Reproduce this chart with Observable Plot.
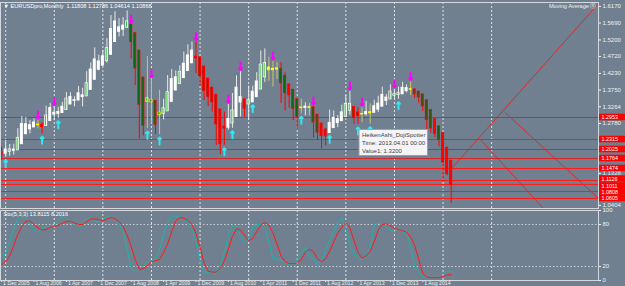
<!DOCTYPE html>
<html><head><meta charset="utf-8">
<script src="https://cdn.jsdelivr.net/npm/d3@7"></script>
<script src="https://cdn.jsdelivr.net/npm/@observablehq/plot@0.6"></script>
<style>
html,body{margin:0;padding:0;background:#708090;}
#chart{position:relative;width:625px;height:286px;background:#708090;overflow:hidden;}
#chart svg{position:absolute;left:0;display:block;}
</style></head><body><div id="chart"></div>
<script>
// Monthly Heiken Ashi candles, index 0 = Dec 2005 ... 111 = Mar 2015
const haOpen = [1.1950,1.1905,1.1964,1.1992,1.2006,1.2182,1.2471,1.2613,1.2669,1.2736,1.2740,1.2709,1.2856,1.3040,1.3062,1.3085,1.3174,1.3333,1.3439,1.3446,1.3549,1.3571,1.3756,1.4047,1.4340,1.4457,1.4590,1.4773,1.5144,1.5439,1.5502,1.5558,1.5647,1.5395,1.4887,1.4107,1.3413,1.3459,1.3430,1.3088,1.3059,1.3136,1.3408,1.3737,1.3925,1.4098,1.4303,1.4527,1.4709,1.4691,1.4425,1.4077,1.3816,1.3608,1.3183,1.2684,1.2660,1.2786,1.2968,1.3392,1.3468,1.3338,1.3394,1.3545,1.3769,1.4125,1.4327,1.4363,1.4345,1.4359,1.4155,1.3907,1.3754,1.3480,1.3226,1.3235,1.3250,1.3243,1.3028,1.2773,1.2596,1.2504,1.2649,1.2795,1.2850,1.2974,1.3157,1.3251,1.3097,1.3046,1.3050,1.3078,1.3092,1.3184,1.3269,1.3437,1.3481,1.3590,1.3607,1.3628,1.3719,1.3761,1.3766,1.3698,1.3618,1.3449,1.3166,1.2902,1.2694,1.2500,1.2074,1.1696];
const haClose = [1.1860,1.2023,1.2020,1.2020,1.2358,1.2760,1.2755,1.2725,1.2803,1.2743,1.2678,1.3003,1.3223,1.3085,1.3108,1.3263,1.3493,1.3545,1.3453,1.3653,1.3593,1.3940,1.4338,1.4633,1.4573,1.4723,1.4955,1.5515,1.5733,1.5565,1.5613,1.5735,1.5143,1.4378,1.3328,1.2718,1.3505,1.3400,1.2745,1.3030,1.3213,1.3680,1.4065,1.4113,1.4270,1.4508,1.4750,1.4890,1.4673,1.4158,1.3730,1.3555,1.3400,1.2758,1.2185,1.2635,1.2913,1.3150,1.3815,1.3543,1.3208,1.3450,1.3695,1.3993,1.4480,1.4528,1.4398,1.4328,1.4373,1.3950,1.3660,1.3600,1.3205,1.2973,1.3243,1.3265,1.3235,1.2813,1.2518,1.2418,1.2413,1.2793,1.2940,1.2905,1.3098,1.3340,1.3345,1.2943,1.2995,1.3053,1.3105,1.3105,1.3275,1.3353,1.3605,1.3525,1.3698,1.3623,1.3650,1.3810,1.3803,1.3770,1.3630,1.3538,1.3280,1.2883,1.2638,1.2485,1.2305,1.1648,1.1318,1.1002];
const haHigh = [1.2100,1.2290,1.2170,1.2180,1.2630,1.2980,1.2950,1.2860,1.2910,1.2870,1.2800,1.3280,1.3360,1.3260,1.3250,1.3390,1.3680,1.3670,1.3550,1.3850,1.3800,1.4280,1.4530,1.4970,1.4760,1.4900,1.5240,1.5910,1.6020,1.5820,1.5850,1.6040,1.5647,1.5395,1.4887,1.4107,1.4720,1.4060,1.3430,1.3740,1.3480,1.4170,1.4340,1.4300,1.4450,1.4850,1.5060,1.5140,1.5140,1.4691,1.4425,1.4077,1.3816,1.3608,1.3183,1.3110,1.3330,1.3650,1.4160,1.4280,1.3500,1.3860,1.3860,1.4250,1.4880,1.4940,1.4700,1.4580,1.4550,1.4550,1.4250,1.3907,1.3754,1.3480,1.3490,1.3380,1.3360,1.3280,1.3028,1.2773,1.2640,1.3170,1.3140,1.3010,1.3310,1.3590,1.3710,1.3251,1.3240,1.3240,1.3420,1.3350,1.3450,1.3570,1.3830,1.3620,1.3900,1.3770,1.3830,1.3970,1.3900,1.3990,1.3766,1.3700,1.3618,1.3449,1.3166,1.2902,1.2694,1.2500,1.2074,1.1696];
const haLow = [1.1710,1.1800,1.1830,1.1860,1.2006,1.2182,1.2460,1.2480,1.2669,1.2620,1.2480,1.2709,1.2856,1.2860,1.2930,1.3080,1.3174,1.3333,1.3260,1.3446,1.3260,1.3571,1.3756,1.4047,1.4310,1.4457,1.4530,1.4773,1.5144,1.5290,1.5300,1.5540,1.4650,1.3880,1.2330,1.2420,1.2630,1.2770,1.2460,1.2460,1.2880,1.3136,1.3408,1.3737,1.3925,1.4098,1.4303,1.4527,1.4220,1.3860,1.3440,1.3270,1.3110,1.2140,1.1880,1.2150,1.2590,1.2640,1.2968,1.2970,1.2960,1.2870,1.3394,1.3545,1.3769,1.3970,1.4000,1.3840,1.4050,1.3360,1.3140,1.3220,1.2860,1.2620,1.3060,1.3000,1.3000,1.2360,1.2290,1.2040,1.2130,1.2504,1.2649,1.2660,1.2850,1.2974,1.3020,1.2750,1.2750,1.2800,1.2990,1.2760,1.3092,1.3100,1.3269,1.3300,1.3481,1.3480,1.3480,1.3628,1.3670,1.3590,1.3500,1.3370,1.3130,1.2570,1.2500,1.2360,1.2100,1.1100,1.1260,1.0461];

// indicator markers (month indexes)
const dojiMonths = [9,36,37,39,66,67,68,74,76,89,91,101];
const greenMonths = [2,4,11,16,21,26,31,32,33,34,35,36,37,38,39,40,41,44,49,50,51,52,53,57,61,64,65,69,70,72,73,77,78,85,86,87,88,96,97,98,102,103,104,105,106,108];
const sellArrowMonths = [9,13,32,37,48,56,59,67,77,86,89,97,101];
const buyArrowMonths = [1,10,14,36,39,55,57,62,74,81,88,91,98];

// horizontal levels and trend lines
const levels = [1.2953,1.2315,1.2025,1.1764,1.1474,1.1126,1.1011,1.0808,1.0605];
const levelColors = ["#b83246","#e02828","#b83246","#d82828","#ff1c1c","#ff1c1c","#ff1c1c","#e02828","#ff1c1c"];
const levelLabelNudge = [0,0,0,0,0,-1.5,1.5,0.5,0];
const trendLines = [
  {x1:111.3, y1:1.150, x2:147.5, y2:1.627},
  {x1:124.2, y1:1.311, x2:147.4, y2:1.0605},
  {x1:118.0, y1:1.234, x2:133.8, y2:1.0315}
];

// Stochastic (5,3,3)
const stoMain = [30,40,55,75,88,90,89,82,72,69,74,76,76,79,87,91,89,85,80,76,80,88,91,86,83,87,91,90,87,81,70,45,17,12,17,21,26,28,30,45,65,83,91,91,91,89,84,72,55,25,12,12,11,10,22,40,65,78,77,63,53,60,75,80,80,75,55,31,31,29,26,23,22,30,40,48,34,31,22,30,43,58,70,84,90,75,50,38,31,29,36,45,80,82,80,76,72,70,76,70,67,48,20,12,5,4,4,4,5,11,13,13.8];
const stoSignal = [23,27,35,50,66,77,85,85,80,75,72,73,76,77,79,82,84,85,82,80,80,84,88,88,87,85,88,90,88,84,77,65,48,30,16,17,21,27,28,30,40,52,70,85,90,89,86,80,67,48,25,13,12,12,18,28,45,63,74,72,65,57,60,70,79,83,79,68,52,35,27,24,24,25,30,40,45,41,31,27,31,42,55,68,76,83,75,57,40,32,35,42,55,72,80,81,78,75,73,71,69,62,50,30,10,5,4,4,4,6,8,8.2];

// axes
const priceTicks = [1.6170,1.5690,1.5200,1.4720,1.4230,1.3750,1.3264,1.2780,1.1328,1.0404];
const stoTicks = [0,20,80,100];
const dateLabelMonths = [0,8,16,24,32,40,48,56,64,72,80,88,96,104];
const dateLabels = ["1 Dec 2005","1 Aug 2006","1 Apr 2007","1 Dec 2007","1 Aug 2008","1 Apr 2009","1 Dec 2009","1 Aug 2010","1 Apr 2011","1 Dec 2011","1 Aug 2012","1 Apr 2013","1 Dec 2013","1 Aug 2014"];
const gridMonths = [1,13,25,37,49,61,73,85,97,109,121];

const headerText = "▼ EURUSDpro,Monthly  1.11808 1.12786 1.04614 1.10868";
const maText = "Moving Average ⓢ";
const stoText = "Sto(5,3,3) 13.8115 8.2016";
const tooltip = {i: 88, v: 1.3200, text: "HeikenAshi_DojiSpotter\nTime: 2013.04.01 00:00\nValue1: 1.3200"};

const candles = haOpen.map((open, i) => ({i, open, close: haClose[i], high: haHigh[i], low: haLow[i]}));
const doji = new Set(dojiMonths);
const sto = stoMain.map((m, i) => ({i, main: m, signal: stoSignal[i]}));
const levelRows = levels.map((v, k) => ({v, k}));

const xDomain = [-0.272, 147.38];
const font = "'Liberation Sans', Arial, sans-serif";
const frameColor = "#d4d9de";
const gridColor = "#dfe3e7";

const main = Plot.plot({
  width: 625, height: 209,
  marginTop: 2, marginBottom: 1, marginLeft: 0, marginRight: 27,
  style: {background: "transparent", color: "#eef1f4", fontSize: "6px", fontFamily: font, overflow: "visible"},
  x: {domain: xDomain, axis: null},
  y: {domain: [1.0315, 1.6286], axis: "right", ticks: priceTicks, tickFormat: d => d.toFixed(4), tickSize: 2, tickPadding: 2, label: null},
  color: {type: "identity"},
  marks: [
    Plot.ruleX(gridMonths, {x: d => d, stroke: gridColor, strokeDasharray: "2,2", strokeWidth: 1}),
    Plot.ruleY(levels, {y: d => d, stroke: (d, i) => levelColors[i], strokeWidth: 1}),
    Plot.link(trendLines, {x1: "x1", y1: "y1", x2: "x2", y2: "y2", stroke: "#e02626", strokeWidth: 0.9}),
    Plot.ruleX(candles, {x: "i", y1: "low", y2: "high", strokeWidth: 1,
      stroke: d => doji.has(d.i) ? "#cac66a" : (d.close >= d.open ? "#e8e8e8" : "#ff0000")}),
    Plot.rect(candles, {x1: d => d.i - 0.37, x2: d => d.i + 0.37, y1: "open", y2: "close", insetTop: -0.6, insetBottom: -0.6,
      fill: d => doji.has(d.i) ? "#ffff00" : (d.close >= d.open ? "#ffffff" : "#ff0000")}),
    Plot.ruleX(candles.filter(d => greenMonths.includes(d.i)), {x: "i", y1: "open", y2: "close", dx: -0.7, strokeWidth: 1.2,
      stroke: d => d.close >= d.open ? "#3ccc3c" : "#0a6a12"}),
    Plot.vector(candles.filter(d => sellArrowMonths.includes(d.i)), {x: "i", y: "high", rotate: 180, length: 7, anchor: "end", dy: -2, stroke: "#ff00ff", strokeWidth: 2}),
    Plot.vector(candles.filter(d => buyArrowMonths.includes(d.i)), {x: "i", y: "low", rotate: 0, length: 7, anchor: "end", dy: 3, stroke: "#33e6f0", strokeWidth: 2}),
    Plot.rect([tooltip], {x1: "i", x2: "i", y1: "v", y2: "v", insetLeft: 1.5, insetRight: -70, insetTop: 21, insetBottom: -47, fill: "#f4f4f6", stroke: "#9aa0a6", strokeWidth: 1}),
    Plot.text([tooltip], {x: "i", y: "v", text: "text", dx: 4, dy: 23, textAnchor: "start", lineAnchor: "top", lineHeight: 1.3, fontSize: 6, fill: "#3c4048"}),
    Plot.frame({stroke: frameColor}),
    ...levelRows.map(r => Plot.rect([r], {x1: xDomain[1], x2: xDomain[1], y1: "v", y2: "v", dy: levelLabelNudge[r.k], insetLeft: 1, insetRight: -27, insetTop: -3.3, insetBottom: -3.3, fill: "#ff0000"})),
    ...levelRows.map(r => Plot.text([r], {x: xDomain[1], y: "v", text: d => d.v.toFixed(4), dx: 3, dy: levelLabelNudge[r.k], textAnchor: "start", fill: "#ffffff", fontSize: 5.4})),
    Plot.text([headerText], {frameAnchor: "top-left", dx: 3, dy: 2, textAnchor: "start", lineAnchor: "top", fill: "#ffffff", fontSize: 5.6}),
    Plot.text([maText], {frameAnchor: "top-right", dx: -2, dy: 2, textAnchor: "end", lineAnchor: "top", fill: "#f0f0f0", fontSize: 5.6})
  ]
});
main.style.top = "0px";

const sub = Plot.plot({
  width: 625, height: 77,
  marginTop: 1, marginBottom: 6, marginLeft: 0, marginRight: 27,
  style: {background: "transparent", color: "#eef1f4", fontSize: "6px", fontFamily: font, overflow: "visible"},
  x: {domain: xDomain, axis: "bottom", ticks: dateLabelMonths, tickFormat: () => "", tickSize: 2, tickPadding: 0, label: null},
  y: {domain: [0, 100], axis: "right", ticks: stoTicks, tickFormat: d => String(d), tickSize: 2, tickPadding: 2, label: null},
  marks: [
    Plot.ruleX(gridMonths, {x: d => d, stroke: gridColor, strokeDasharray: "2,2", strokeWidth: 1}),
    Plot.ruleY([20, 80], {y: d => d, stroke: "#c9cfd5", strokeDasharray: "1.5,2", strokeWidth: 1}),
    Plot.line(sto, {x: "i", y: "main", stroke: "#20b2aa", strokeWidth: 1}),
    Plot.line(sto, {x: "i", y: "signal", stroke: "#ff1a1a", strokeWidth: 1}),
    Plot.frame({stroke: frameColor}),
    Plot.text([stoText], {frameAnchor: "top-left", dx: 3, dy: 2, textAnchor: "start", lineAnchor: "top", fill: "#ffffff", fontSize: 5.6}),
    Plot.text(dateLabelMonths, {x: d => d, frameAnchor: "bottom", text: (d, i) => dateLabels[i], dx: 1.5, dy: 1, textAnchor: "start", lineAnchor: "top", fill: "#eef1f4", fontSize: 5.2})
  ]
});
sub.style.top = "209px";

const host = document.getElementById("chart");
host.appendChild(main);
host.appendChild(sub);
</script>
</body></html>
